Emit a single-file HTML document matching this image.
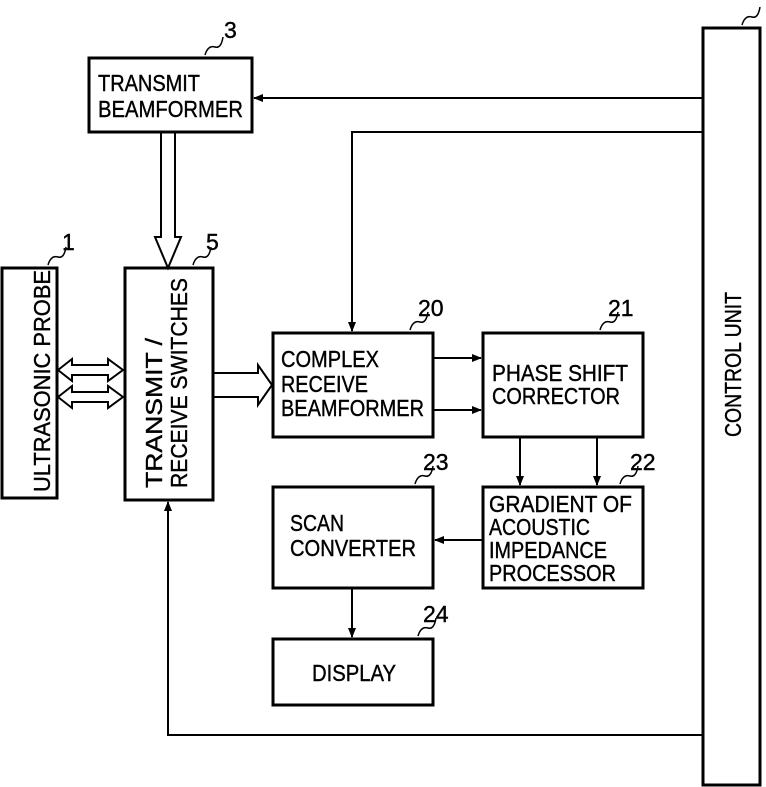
<!DOCTYPE html>
<html><head><style>body{margin:0;background:#fff}svg{display:block}text{font-family:"Liberation Sans",sans-serif;font-size:23px;fill:#000;stroke:#000;stroke-width:0.4}</style></head><body>
<svg width="766" height="787" viewBox="0 0 766 787" xmlns="http://www.w3.org/2000/svg">
<defs><marker id="a" markerWidth="10" markerHeight="10" refX="9" refY="5" orient="auto" markerUnits="userSpaceOnUse"><path d="M0,1 L10,5 L0,9 z" fill="#000"/></marker></defs>
<g fill="none" stroke="#000" stroke-width="3">
<rect x="89" y="58" width="163" height="74"/>
<rect x="2" y="268" width="55" height="230"/>
<rect x="125" y="268" width="88" height="232"/>
<rect x="273" y="333" width="160" height="104"/>
<rect x="483" y="333" width="160" height="104"/>
<rect x="483" y="487" width="160" height="101"/>
<rect x="273" y="487" width="160" height="101"/>
<rect x="273" y="639" width="160" height="66"/>
<rect x="703" y="28" width="57" height="757"/>
</g>
<g fill="none" stroke="#000" stroke-width="2">
<line x1="703" y1="98" x2="254" y2="98" marker-end="url(#a)"/>
<polyline points="703,132 352,132 352,331" marker-end="url(#a)"/>
<polyline points="703,735 168,735 168,502" marker-end="url(#a)"/>
<line x1="433" y1="358" x2="481" y2="358" marker-end="url(#a)"/>
<line x1="433" y1="410" x2="481" y2="410" marker-end="url(#a)"/>
<line x1="520" y1="437" x2="520" y2="485" marker-end="url(#a)"/>
<line x1="597" y1="437" x2="597" y2="485" marker-end="url(#a)"/>
<line x1="483" y1="540" x2="435" y2="540" marker-end="url(#a)"/>
<line x1="352" y1="588" x2="352" y2="637" marker-end="url(#a)"/>
<path d="M161,132 V237 H155 L168,268 L181,237 H175 V132"/>
<path d="M58,370 L72,359 V365 H108 V359 L123,370 L108,381 V375 H72 V381 Z"/>
<path d="M58,397 L72,386 V392 H108 V386 L123,397 L108,408 V402 H72 V408 Z"/>
<path d="M213,373 H258 V365 L272,385 L258,405 V397 H213"/>
<path d="M205,55 q3,-10 10,-8 q6,2 8,-10" stroke-width="1.5"/>
<path d="M48,265 q3,-10 10,-8 q6,2 8,-10" stroke-width="1.5"/>
<path d="M193,265 q3,-10 10,-8 q6,2 8,-10" stroke-width="1.5"/>
<path d="M410,330 q3,-10 10,-8 q6,2 8,-10" stroke-width="1.5"/>
<path d="M600,330 q3,-10 10,-8 q6,2 8,-10" stroke-width="1.5"/>
<path d="M620,484 q3,-10 10,-8 q6,2 8,-10" stroke-width="1.5"/>
<path d="M415,484 q3,-10 10,-8 q6,2 8,-10" stroke-width="1.5"/>
<path d="M418,636 q3,-10 10,-8 q6,2 8,-10" stroke-width="1.5"/>
<path d="M742,25 q3,-10 10,-8 q6,2 8,-10" stroke-width="1.5"/>
</g>
<g style="font-size:21px">
<text x="224" y="38">3</text>
<text x="62" y="250">1</text>
<text x="206" y="250">5</text>
<text x="418" y="316">20</text>
<text x="608" y="316">21</text>
<text x="630" y="470">22</text>
<text x="423" y="470">23</text>
<text x="423" y="622">24</text>
</g>
<g lengthAdjust="spacingAndGlyphs">
<text x="98" y="91" textLength="102" lengthAdjust="spacingAndGlyphs">TRANSMIT</text>
<text x="98" y="117" textLength="145" lengthAdjust="spacingAndGlyphs">BEAMFORMER</text>
<text x="281" y="367" textLength="98" lengthAdjust="spacingAndGlyphs">COMPLEX</text>
<text x="281" y="392" textLength="87" lengthAdjust="spacingAndGlyphs">RECEIVE</text>
<text x="281" y="416" textLength="143" lengthAdjust="spacingAndGlyphs">BEAMFORMER</text>
<text x="492" y="381" textLength="136" lengthAdjust="spacingAndGlyphs">PHASE SHIFT</text>
<text x="492" y="404" textLength="128" lengthAdjust="spacingAndGlyphs">CORRECTOR</text>
<text x="489" y="512" textLength="143" lengthAdjust="spacingAndGlyphs">GRADIENT OF</text>
<text x="489" y="535" textLength="101" lengthAdjust="spacingAndGlyphs">ACOUSTIC</text>
<text x="489" y="558" textLength="118" lengthAdjust="spacingAndGlyphs">IMPEDANCE</text>
<text x="489" y="581" textLength="127" lengthAdjust="spacingAndGlyphs">PROCESSOR</text>
<text x="290" y="531" textLength="54" lengthAdjust="spacingAndGlyphs">SCAN</text>
<text x="290" y="556" textLength="126" lengthAdjust="spacingAndGlyphs">CONVERTER</text>
<text x="312" y="681" textLength="84" lengthAdjust="spacingAndGlyphs">DISPLAY</text>
<text transform="translate(50,492) rotate(-90)" textLength="222" lengthAdjust="spacingAndGlyphs">ULTRASONIC PROBE</text>
<text transform="translate(162,488) rotate(-90)" textLength="150" lengthAdjust="spacingAndGlyphs">TRANSMIT /</text>
<text transform="translate(187,488) rotate(-90)" textLength="210" lengthAdjust="spacingAndGlyphs">RECEIVE SWITCHES</text>
<text transform="translate(741,437) rotate(-90)" textLength="145" lengthAdjust="spacingAndGlyphs">CONTROL UNIT</text>
</g>
</svg>
</body></html>
